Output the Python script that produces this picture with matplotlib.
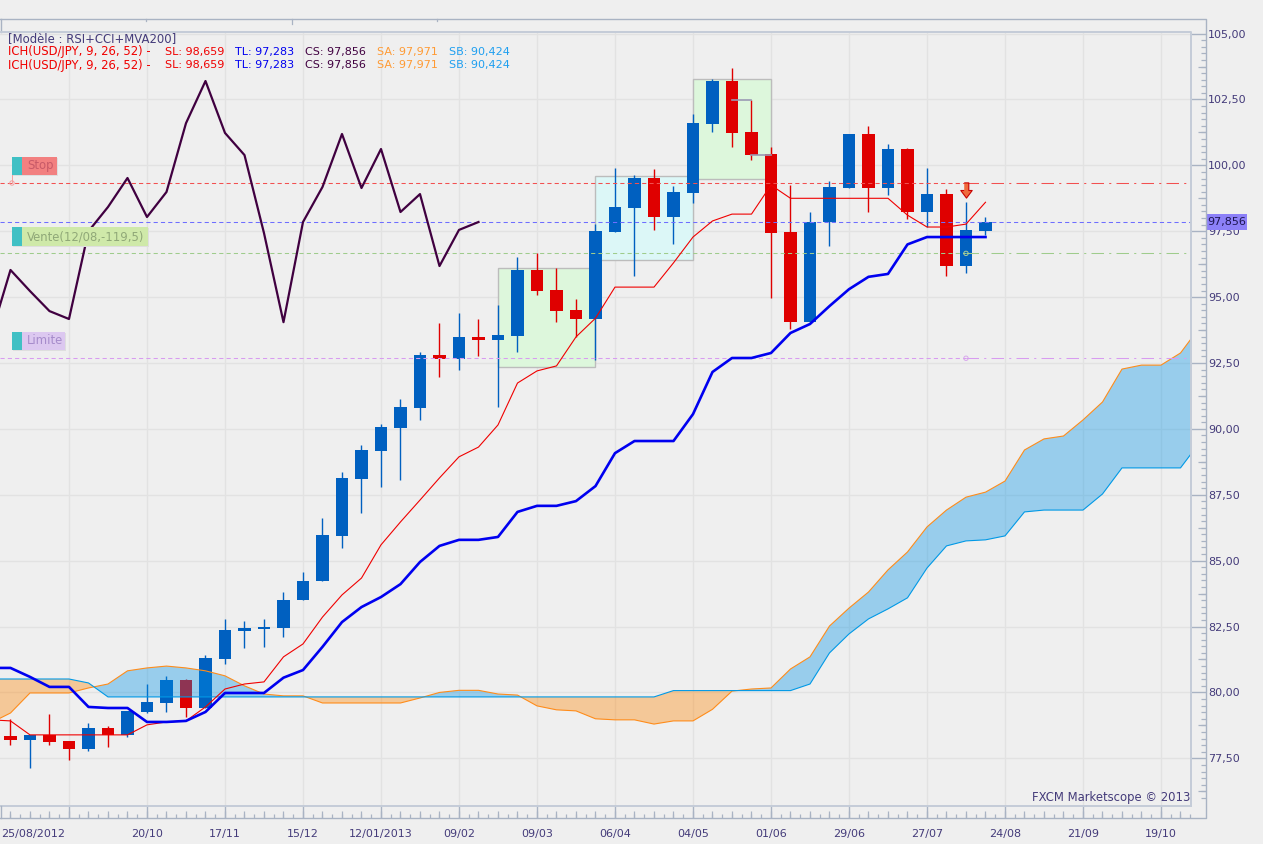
import matplotlib
matplotlib.use("Agg")
import matplotlib.pyplot as plt
from matplotlib.patches import Rectangle
import numpy as np

plt.rcParams['font.family'] = ['DejaVu Sans']

# USD/JPY weekly candles
candle_open = [78.35, 78.20, 78.39, 78.16, 77.86, 78.66, 78.39, 79.26, 79.60, 80.47,
               79.41, 81.27, 82.33, 82.41, 82.45, 83.51, 84.23, 85.94, 88.10, 89.16,
               90.03, 90.80, 92.80, 92.65, 93.49, 93.37, 93.52, 96.03, 95.27, 94.51,
               94.17, 97.47, 98.38, 99.52, 98.04, 98.95, 101.57, 103.20, 101.26, 100.43,
               97.47, 94.05, 97.85, 99.14, 101.19, 99.14, 100.62, 98.23, 98.91, 96.18, 97.50]
candle_close = [78.20, 78.39, 78.13, 77.86, 78.66, 78.39, 79.30, 79.64, 80.47, 79.41,
                81.31, 82.37, 82.45, 82.48, 83.51, 84.24, 85.97, 88.14, 89.20, 90.07,
                90.83, 92.80, 92.66, 93.49, 93.37, 93.56, 96.03, 95.23, 94.47, 94.17,
                97.50, 98.42, 99.52, 98.04, 98.99, 101.60, 103.20, 101.23, 100.39, 97.43,
                94.05, 97.85, 99.18, 101.19, 99.14, 100.62, 98.23, 98.91, 96.18, 97.55, 97.85]
candle_high = [79.00, 78.39, 79.18, 78.16, 78.84, 78.73, 79.30, 80.32, 80.63, 80.51,
               81.42, 82.79, 82.71, 82.79, 83.81, 84.57, 86.62, 88.36, 89.39, 90.18,
               91.13, 92.92, 94.02, 94.40, 94.17, 94.70, 96.52, 96.67, 96.10, 94.93,
               97.77, 99.90, 99.63, 99.86, 99.21, 101.95, 103.27, 103.70, 102.48, 100.70,
               99.25, 98.23, 99.40, 101.19, 101.49, 100.81, 100.66, 99.90, 99.10, 98.60, 98.04]
candle_low = [78.00, 77.14, 78.00, 77.44, 77.78, 77.93, 78.31, 79.22, 79.26, 79.07,
              79.41, 81.08, 81.69, 81.73, 82.10, 83.51, 84.23, 85.48, 86.80, 87.80,
              88.06, 90.34, 91.97, 92.23, 92.77, 90.83, 92.92, 95.08, 94.06, 93.49,
              92.61, 97.47, 95.80, 97.55, 97.01, 98.57, 101.26, 100.69, 100.20, 94.97,
              93.79, 94.05, 96.93, 99.14, 98.23, 98.87, 97.96, 97.66, 95.80, 95.91, 97.36]

# Ichimoku lines, these all start one bar left of the first visible candle
tenkan = [78.96, 78.92, 78.39, 78.39, 78.39, 78.39, 78.39, 78.39, 78.77, 78.88, 78.92,
          79.45, 80.13, 80.32, 80.40, 81.35, 81.84, 82.86, 83.70, 84.34, 85.60,
          86.47, 87.30, 88.14, 88.94, 89.31, 90.15, 91.74, 92.20, 92.39, 93.49,
          94.20, 95.38, 95.38, 95.38, 96.30, 97.28, 97.89, 98.15, 98.15, 99.25,
          98.75, 98.75, 98.75, 98.75, 98.75, 98.75, 98.11, 97.66, 97.66, 97.77, 98.60]
kijun = [80.93, 80.93, 80.59, 80.21, 80.21, 79.45, 79.41, 79.41, 78.88, 78.88, 78.92,
         79.26, 79.98, 79.98, 79.98, 80.56, 80.85, 81.73, 82.67, 83.24, 83.62,
         84.11, 84.95, 85.56, 85.79, 85.79, 85.90, 86.85, 87.08, 87.08, 87.26,
         87.83, 89.08, 89.54, 89.54, 89.54, 90.56, 92.16, 92.69, 92.69, 92.88,
         93.64, 93.98, 94.66, 95.30, 95.77, 95.88, 97.00, 97.28, 97.28, 97.28, 97.28]
senkou_a = [78.85, 79.22, 79.98, 79.98, 79.98, 80.17, 80.32, 80.82, 80.93, 81.00, 80.93,
            80.82, 80.63, 80.25, 79.94, 79.87, 79.87, 79.60, 79.60, 79.60, 79.60,
            79.60, 79.79, 80.00, 80.08, 80.08, 79.94, 79.90, 79.49, 79.34, 79.30,
            79.00, 78.96, 78.96, 78.80, 78.92, 78.92, 79.36, 80.05, 80.13, 80.17,
            80.89, 81.35, 82.52, 83.20, 83.81, 84.65, 85.33, 86.28, 86.92, 87.41,
            87.60, 88.02, 89.20, 89.62, 89.73, 90.34, 91.02, 92.27, 92.42, 92.42,
            92.88, 93.87]
senkou_b = [80.51, 80.51, 80.51, 80.51, 80.51, 80.36, 79.83, 79.83, 79.83, 79.83, 79.83,
            79.83, 79.83, 79.83, 79.83, 79.83, 79.83, 79.83, 79.83, 79.83, 79.83,
            79.83, 79.83, 79.83, 79.83, 79.83, 79.83, 79.83, 79.83, 79.83, 79.83,
            79.83, 79.83, 79.83, 79.83, 80.07, 80.07, 80.07, 80.07, 80.07, 80.07,
            80.07, 80.32, 81.50, 82.22, 82.79, 83.17, 83.59, 84.72, 85.56, 85.75,
            85.79, 85.94, 86.85, 86.92, 86.92, 86.92, 87.53, 88.52, 88.52, 88.52,
            88.52, 89.50]
chikou_shift = 26

stop_level = 99.33
price_level = 97.856
entry_level = 96.66
limit_level = 92.68
order_bar = 49

# pattern boxes: first bar, last bar, top, bottom, colour
pattern_boxes = [(25, 30, 96.10, 92.35, '#ddf7dc'),
                 (30, 35, 99.58, 96.40, '#dcf7f7'),
                 (35, 39, 103.27, 99.47, '#ddf7dc')]
box_ticks = [(37, 38, 102.48), (38, 39, 100.39)]

price_ticks = [77.5, 80, 82.5, 85, 87.5, 90, 92.5, 95, 97.5, 100, 102.5, 105]
date_labels = ['20/10', '17/11', '15/12', '12/01/2013', '09/02', '09/03', '06/04',
               '04/05', '01/06', '29/06', '27/07', '24/08', '21/09', '19/10']

W, H = 1263, 844
BG = '#efefef'
GRID = '#e2e2e2'
FRAME = '#a9b3c3'
INK = '#443b7a'
UP = '#0060c0'
DOWN = '#df0000'
FS = 8
FS_HEAD = 8.4


def px_axes(fig, x0, y0, x1, y1):
    return fig.add_axes([x0 / W, 1 - y1 / H, (x1 - x0) / W, (y1 - y0) / H])


fig = plt.figure(figsize=(W / 100, H / 100), dpi=100, facecolor=BG)

PLOT_L, PLOT_R, PLOT_T, PLOT_B = 0, 1190.5, 32, 805.5
ax = px_axes(fig, PLOT_L, PLOT_T, PLOT_R, PLOT_B)
ax.set_facecolor(BG)
ax.set_xlim(-0.538, 60.513)
ax.set_ylim(75.71, 105.06)
for s in ax.spines.values():
    s.set_visible(False)
ax.tick_params(left=False, bottom=False, labelleft=False, labelbottom=False)

grid_bars = np.arange(3, 61, 4)
ax.set_xticks(grid_bars)
ax.set_yticks(price_ticks)
ax.grid(True, color=GRID, lw=1.0, zorder=0)
ax.set_axisbelow(True)

for first, last, top, bottom, colour in pattern_boxes:
    ax.add_patch(Rectangle((first, bottom), last - first, top - bottom, facecolor=colour,
                           edgecolor='#bcbcbc', lw=1.0, zorder=1))

# candles
bars = np.arange(len(candle_open))
opens = np.array(candle_open)
closes = np.array(candle_close)
colours = [UP if c > o else DOWN for o, c in zip(opens, closes)]
ax.vlines(bars, candle_low, candle_high, color=colours, lw=1.0, zorder=2)
ax.bar(bars, np.abs(closes - opens), bottom=np.minimum(opens, closes), width=0.64,
       color=colours, zorder=3)

for first, last, level in box_ticks:
    ax.plot([first, last], [level, level], color='#9a9ab4', lw=1.2, zorder=3.5)

# cloud sits over the candles
cloud_x = np.arange(len(senkou_a)) - 1
ax.fill_between(cloud_x, senkou_a, senkou_b, where=np.array(senkou_a) >= np.array(senkou_b),
                interpolate=True, color='#0092e7', alpha=0.36, lw=0, zorder=4)
ax.fill_between(cloud_x, senkou_a, senkou_b, where=np.array(senkou_a) <= np.array(senkou_b),
                interpolate=True, color='#ff8300', alpha=0.36, lw=0, zorder=4)
ax.plot(cloud_x, senkou_a, color='#ff8c1a', lw=0.8, zorder=5)
ax.plot(cloud_x, senkou_b, color='#0099e6', lw=0.8, zorder=5)

# order levels, dashes change at the order bar
xmin, xmax = ax.get_xlim()
for level, colour in [(stop_level, '#f25050'), (entry_level, '#9fcc8c'), (limit_level, '#d89cf0')]:
    ax.plot([xmin, order_bar], [level, level], color=colour, lw=0.75, dashes=(4, 3),
            dash_capstyle='butt', zorder=6)
    ax.plot([order_bar, xmax], [level, level], color=colour, lw=0.75, dashes=(12, 5, 2, 5),
            dash_capstyle='butt', zorder=6)
ax.axhline(price_level, color='#6e6eff', lw=0.75, dashes=(4, 3), dash_capstyle='butt', zorder=6)

line_x = np.arange(len(tenkan)) - 1
ax.plot(line_x, tenkan, color='#f00000', lw=0.8, zorder=7)
ax.plot(line_x, kijun, color='#0000f0', lw=1.9, zorder=7)
# lagging line is the close moved back 26 bars
ax.plot(bars[:chikou_shift] - 1, closes[chikou_shift - 1:], color='#400040', lw=1.6, zorder=8)

ax.scatter([order_bar], [stop_level - 0.25], s=120, zorder=9, facecolor='#ef6a3c',
           edgecolor='#c80000', lw=0.8,
           marker=[(-0.3, 1), (0.3, 1), (0.3, 0), (0.75, 0), (0, -1), (-0.75, 0), (-0.3, 0)])
ax.scatter([order_bar, order_bar], [entry_level, limit_level], s=10, facecolor='none',
           edgecolor=['#a8cc98', '#d8a8ec'], lw=0.7, zorder=9)

# right scale
ax_r = px_axes(fig, PLOT_R, PLOT_T, 1205.5, PLOT_B)
ax_r.set_ylim(ax.get_ylim())
ax_r.set_xlim(0, 1)
ax_r.patch.set_alpha(0)
ax_r.set_xticks([])
for s in ax_r.spines.values():
    s.set_visible(False)
ax_r.yaxis.tick_right()
ax_r.set_yticks(price_ticks)
ax_r.set_yticklabels([f'{t:.2f}'.replace('.', ',') for t in price_ticks])
ax_r.tick_params(axis='y', direction='in', length=10.5, width=1, color=FRAME, pad=2,
                 labelsize=FS, labelcolor=INK)
ax_r.set_yticks(np.arange(76, 105, 0.25), minor=True)
ax_r.tick_params(axis='y', which='minor', direction='in', length=3.3, width=0.9, color=FRAME)
ax_r.hlines(np.arange(76.25, 105, 2.5), 0.5, 1, color=FRAME, lw=0.9)

# date scale
ax_b = px_axes(fig, PLOT_L, PLOT_B, PLOT_R, 818)
ax_b.set_xlim(ax.get_xlim())
ax_b.set_ylim(0, 1)
ax_b.patch.set_alpha(0)
ax_b.set_yticks([])
for s in ax_b.spines.values():
    s.set_visible(False)
ax_b.set_xticks(grid_bars)
ax_b.set_xticklabels([''] + date_labels)
ax_b.tick_params(axis='x', direction='in', length=9, width=1, color=FRAME, pad=8,
                 labelsize=FS, labelcolor=INK)
ax_b.set_xticks(np.arange(0, 61, 0.5), minor=True)
ax_b.tick_params(axis='x', which='minor', direction='in', length=3, width=0.9, color=FRAME)
ax_b.vlines(np.arange(0, 61), 0, 0.55, color=FRAME, lw=0.9)
ax_b.text(1.15, -1.3, '25/08/2012', ha='center', va='center', fontsize=FS, color=INK,
          clip_on=False)

# overlay in pixel units for the frame and the on-chart labels
ov = fig.add_axes([0, 0, 1, 1], zorder=10)
ov.set_xlim(0, W)
ov.set_ylim(H, 0)
ov.axis('off')

ov.plot([0, 1205.5, 1205.5, 0], [18.5, 18.5, 818, 818], color=FRAME, lw=1.0)
ov.plot([0.5, 0.5], [18.5, 32], color=FRAME, lw=1.0)
ov.plot([0, 1190.5, 1190.5], [32, 32, 805.5], color='#c4ccd8', lw=1.4)
ov.plot([0, 1190.5], [805.5, 805.5], color='#c4ccd8', lw=1.4)
ov.plot([0.5, 0.5], [805.5, 818], color=FRAME, lw=1.0)
for x, ln in [(146, 2), (292, 5), (437, 2)]:
    ov.plot([x, x], [18.5, 18.5 + ln], color=FRAME, lw=0.9)

tags = [(157, 175, 57, '#f28080', '#c85a68', 'Stop'),
        (227, 246, 148, '#cfe9a9', '#90a878', 'Vente(12/08,-119,5)'),
        (332, 350, 65, '#dcc8f0', '#a68ccb', 'Limite')]
for y0, y1, x1, fill, ink, label in tags:
    ov.add_patch(Rectangle((13, y0 + 1), x1 - 12, y1 - y0, color='#dedede', lw=0))
    ov.add_patch(Rectangle((12, y0), x1 - 12, y1 - y0, color=fill, lw=0))
    ov.add_patch(Rectangle((12, y0), 10, y1 - y0, color='#40c0c4', lw=0))
    ov.text(27, (y0 + y1) / 2, label, color=ink, fontsize=FS_HEAD, va='center', ha='left')
ov.plot([12, 12], [175, 183], color='#f4a0a0', lw=0.7)
ov.scatter([12], [183], s=10, facecolor='none', edgecolor='#f4a0a0', lw=0.7)

# header
ov.text(8, 39, '[Modèle : RSI+CCI+MVA200]', color=INK, fontsize=FS_HEAD, va='center')
for y in (52, 65):
    ov.text(8, y, 'ICH(USD/JPY, 9, 26, 52) -', color='#f00000', fontsize=FS_HEAD, va='center')
    ov.text(165, y, 'SL: 98,659', color='#f00000', fontsize=FS, va='center')
    ov.text(235, y, 'TL: 97,283', color='#0000f0', fontsize=FS, va='center')
    ov.text(305, y, 'CS: 97,856', color='#400040', fontsize=FS, va='center')
    ov.text(377, y, 'SA: 97,971', color='#ff9a33', fontsize=FS, va='center')
    ov.text(449, y, 'SB: 90,424', color='#1e9ff0', fontsize=FS, va='center')

ov.text(1190, 798, 'FXCM Marketscope © 2013', color=INK, fontsize=FS_HEAD, va='center', ha='right')
ov.add_patch(Rectangle((1206, 214), 41, 16, color='#8c80f8', lw=0))
ov.text(1226.5, 222, '97,856', color='#1c1450', fontsize=FS, va='center', ha='center')

fig.savefig('out.png', dpi=100, facecolor=BG)
